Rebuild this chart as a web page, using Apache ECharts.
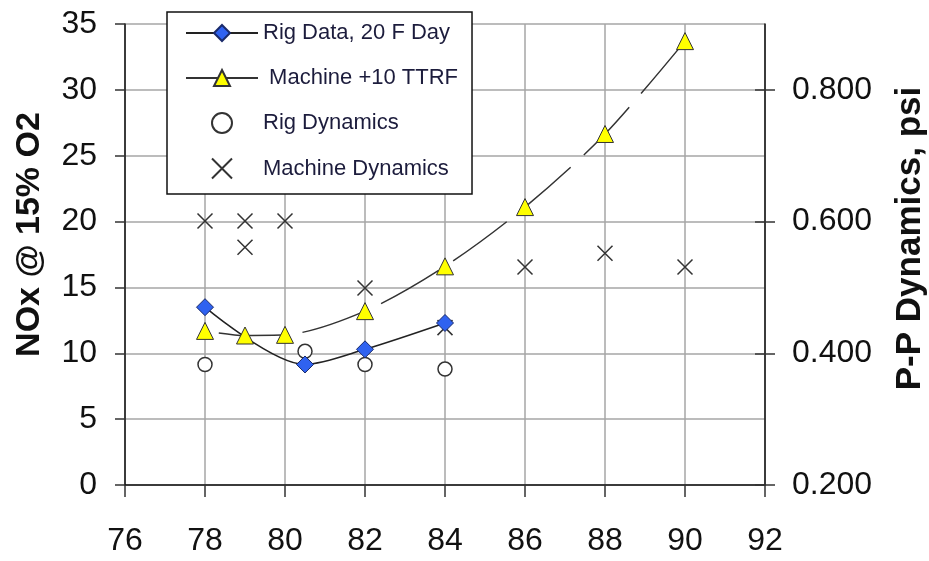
<!DOCTYPE html>
<html>
<head>
<meta charset="utf-8">
<script src="https://cdn.jsdelivr.net/npm/echarts@6/dist/echarts.min.js"></script>
<style>
  html, body { margin: 0; padding: 0; background: #fff; }
  #main { width: 929px; height: 561px; }
</style>
</head>
<body>
<div id="main"></div>
<script>
// NOx, left axis
var rigX = [78, 80.5, 82, 84];
var rigNox = [13.5, 9.15, 10.3, 12.3];
var machX = [78, 79, 80, 82, 84, 86, 88, 90];
var machNox = [11.7, 11.35, 11.4, 13.2, 16.6, 21.1, 26.65, 33.7];
// dynamics, right axis (psi)
var rigDynX = [78, 80.5, 82, 84];
var rigDyn = [0.383, 0.403, 0.383, 0.376];
var machDynX = [78, 79, 79, 80, 82, 84, 86, 88, 90];
var machDyn = [0.601, 0.601, 0.561, 0.601, 0.499, 0.439, 0.531, 0.552, 0.531];
var rightTicks = [0.2, 0.4, 0.6, 0.8];

function pairs(xs, ys) {
    return xs.map(function (x, i) { return [x, ys[i]]; });
}

var font = 'Liberation Sans, Arial, sans-serif';
var crossPath = 'path://M0,0L10,10M10,0L0,10';

var option = {
    animation: false,
    backgroundColor: '#fff',
    grid: { left: 125, right: 164, top: 24, bottom: 76, outerBoundsMode: 'none' },
    legend: {
        orient: 'vertical',
        left: 167,
        top: 12,
        padding: [9, 14, 13, 18],
        itemWidth: 72,
        itemHeight: 20,
        itemGap: 21,
        backgroundColor: '#fff',
        borderColor: '#111',
        borderWidth: 1.5,
        formatter: function (name) {
            return name === 'Machine +10 TTRF' ? ' ' + name : name;
        },
        textStyle: { fontFamily: font, fontSize: 22, color: '#1c1c3c', lineHeight: 24 },
        data: [
            'Rig Data, 20 F Day',
            { name: 'Machine +10 TTRF', lineStyle: { type: 'solid', dashOffset: 0 } },
            'Rig Dynamics',
            'Machine Dynamics'
        ]
    },
    xAxis: {
        type: 'value',
        min: 76, max: 92, interval: 2,
        axisLine: { lineStyle: { color: '#111', width: 1.5 } },
        axisTick: { length: 12, lineStyle: { color: '#333', width: 1.5 } },
        axisLabel: { fontFamily: font, fontSize: 32, color: '#111', margin: 40 },
        splitLine: { show: true, lineStyle: { color: '#a6a6a6', width: 1.5 } }
    },
    yAxis: [
        {
            type: 'value',
            min: 0, max: 35, interval: 5,
            name: 'NOx @ 15% O2',
            nameLocation: 'middle',
            nameGap: 78,
            nameTextStyle: { fontFamily: font, fontSize: 34, fontWeight: 'bold', color: '#111', padding: [0, 0, 0, 40] },
            axisLine: { show: true, lineStyle: { color: '#111', width: 1.5 } },
            axisTick: { show: true, length: 10, lineStyle: { color: '#333', width: 1.5 } },
            axisLabel: { fontFamily: font, fontSize: 32, color: '#111', margin: 28 },
            splitLine: { show: true, lineStyle: { color: '#a6a6a6', width: 1.5 } }
        },
        {
            type: 'value',
            min: 0.2, max: 0.9, interval: 0.2,
            position: 'right',
            name: 'P-P Dynamics, psi',
            nameLocation: 'middle',
            nameGap: 128,
            nameTextStyle: { fontFamily: font, fontSize: 35, fontWeight: 'bold', color: '#111', padding: [0, 0, 0, 32] },
            axisLine: { show: true, lineStyle: { color: '#111', width: 1.5 } },
            axisTick: { show: true, length: 10, customValues: rightTicks, lineStyle: { color: '#333', width: 1.5 } },
            axisLabel: {
                fontFamily: font, fontSize: 32, color: '#111', margin: 27,
                customValues: rightTicks,
                formatter: function (v) { return v.toFixed(3); }
            },
            splitLine: { show: false }
        },
        {
            // inner half of the right axis ticks
            type: 'value',
            min: 0.2, max: 0.9, interval: 0.2,
            position: 'right',
            axisLine: { show: false },
            axisTick: { show: true, inside: true, length: 10, customValues: rightTicks, lineStyle: { color: '#333', width: 1.5 } },
            axisLabel: { show: false },
            splitLine: { show: false }
        }
    ],
    series: [
        {
            name: 'Rig Data, 20 F Day',
            type: 'line',
            yAxisIndex: 0,
            smooth: 0.3,
            data: pairs(rigX, rigNox),
            symbol: 'diamond',
            symbolSize: 17,
            itemStyle: { color: '#2f62f0', borderColor: '#1a2a6a', borderWidth: 1 },
            lineStyle: { color: '#222', width: 1.5 },
            z: 3
        },
        {
            name: 'Machine +10 TTRF',
            type: 'line',
            yAxisIndex: 0,
            smooth: 0.3,
            data: pairs(machX, machNox),
            symbol: 'triangle',
            symbolSize: 17,
            itemStyle: { color: '#ffff00', borderColor: '#333', borderWidth: 1 },
            lineStyle: { color: '#333', width: 1.5, type: [66, 18], dashOffset: 70 },
            z: 3
        },
        {
            name: 'Rig Dynamics',
            type: 'scatter',
            yAxisIndex: 1,
            data: pairs(rigDynX, rigDyn),
            symbol: 'circle',
            symbolSize: 14,
            itemStyle: { color: '#fff', opacity: 1, borderColor: '#333', borderWidth: 1.5 },
            z: 2
        },
        {
            name: 'Machine Dynamics',
            type: 'scatter',
            yAxisIndex: 1,
            data: pairs(machDynX, machDyn),
            symbol: crossPath,
            symbolSize: 15,
            itemStyle: { color: 'none', opacity: 1, borderColor: '#333', borderWidth: 1.5 },
            z: 2
        }
    ]
};

var chart = echarts.init(document.getElementById('main'));
chart.setOption(option);
</script>
</body>
</html>
